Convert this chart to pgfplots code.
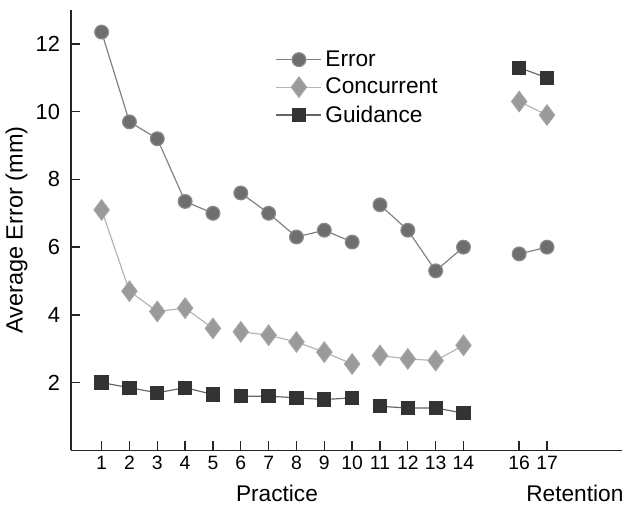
\documentclass[border=0pt]{standalone}
\usepackage{pgfplots}
\pgfplotsset{compat=1.18}
\usepackage{pgfplotstable}
\usepackage{fontspec}
\setmainfont{Liberation Sans}
\definecolor{errfill}{HTML}{6E6E6E}
\definecolor{errline}{HTML}{808080}
\definecolor{confill}{HTML}{9A9A9A}
\definecolor{conline}{HTML}{B4B4B4}
\definecolor{guifill}{HTML}{333333}
\definecolor{guiline}{HTML}{666666}
\pgfplotstableread{
x y
1 12.35
2 9.7
3 9.2
4 7.35
5 7.0
5.5 nan
6 7.6
7 7.0
8 6.3
9 6.5
10 6.15
10.5 nan
11 7.25
12 6.5
13 5.3
14 6.0
15 nan
16 5.8
17 6.0
}\errtab
\pgfplotstableread{
x y
1 7.1
2 4.7
3 4.1
4 4.2
5 3.6
5.5 nan
6 3.5
7 3.4
8 3.2
9 2.9
10 2.55
10.5 nan
11 2.8
12 2.7
13 2.65
14 3.1
15 nan
16 10.3
17 9.9
}\contab
\pgfplotstableread{
x y
1 2.0
2 1.85
3 1.7
4 1.85
5 1.65
5.5 nan
6 1.6
7 1.6
8 1.55
9 1.5
10 1.55
10.5 nan
11 1.3
12 1.25
13 1.25
14 1.1
15 nan
16 11.3
17 11.0
}\guitab
\begin{document}
\begin{tikzpicture}
\begin{axis}[
  scale only axis,
  width=328pt, height=262pt,
  xmin=-0.1, xmax=19.7, ymin=0, ymax=13,
  axis x line=bottom, axis y line=left,
  axis line style={-, line width=0.9pt, black!85},
  xtick={1,2,...,14,16,17},
  ytick={2,4,...,12},
  tick align=inside,
  major tick length=5.5pt,
  tick style={line width=0.8pt, black!85},
  unbounded coords=jump,
  font=\fontsize{13.5}{15}\selectfont,
  /pgf/number format/assume math mode=true,
  xticklabel style={font=\fontsize{11.5}{13}\selectfont},
  yticklabel style={font=\fontsize{13}{15}\selectfont, xshift=-3pt},
  ylabel={Average Error (mm)},
  ylabel style={font=\fontsize{14}{16}\selectfont, yshift=-2pt},
  clip=false,
  legend style={draw=none, fill=none, at={(0.362,0.924)}, anchor=north west,
    font=\fontsize{13.5}{15}\selectfont, row sep=1.5pt},
  legend cell align=left,
  legend image code/.code={\draw[mark repeat=2,mark phase=2] plot coordinates {(0cm,0cm) (0.47cm,0cm) (0.94cm,0cm)};},
]
\addplot[errline, line width=0.7pt, mark=*, mark size=4.1pt,
  mark options={fill=errfill, draw=errfill!80}] table {\errtab};
\addlegendentry{Error}
\addplot[conline, line width=0.7pt, mark=diamond*, mark size=6pt,
  mark options={fill=confill, draw=confill!90}] table {\contab};
\addlegendentry{Concurrent}
\addplot[guiline, line width=0.7pt, mark=square*, mark size=3.9pt,
  mark options={fill=guifill, draw=guifill}] table {\guitab};
\addlegendentry{Guidance}
\node[anchor=north] at (axis cs:7.3,-0.85) {Practice};
\node[anchor=north] at (axis cs:18.0,-0.85) {Retention};
\path (rel axis cs:0,1) -- ++(0,6pt);
\end{axis}
\end{tikzpicture}
\end{document}
